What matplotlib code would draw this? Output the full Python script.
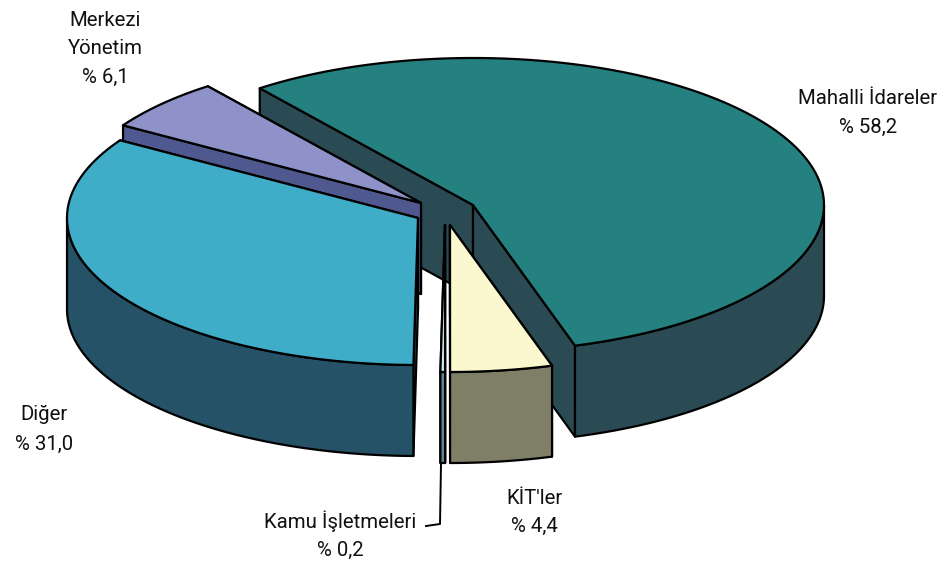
import numpy as np
import matplotlib
matplotlib.use("Agg")
import matplotlib.pyplot as plt
from matplotlib.patches import Polygon

# paylar (%) - saat yönünde, sol üstten başlayarak
names = ["Mahalli İdareler", "KİT'ler", "Kamu İşletmeleri", "Diğer", "Merkezi Yönetim"]
shares = [58.2, 4.4, 0.2, 31.0, 6.1]
top_colors = ["#258080", "#FBF8D0", "#CFE8F0", "#3FACC8", "#8F92C8"]
side_colors = ["#2A4B53", "#7F7F68", "#5F8794", "#265268", "#50598F"]

# her dilimin tepe noktasi (patlatilmis pasta)
centers = [(473, 205), (450, 225), (445, 225), (418, 218), (421, 203)]
draw_order = [0, 4, 3, 2, 1]

START = 135.6
RX, RY = 351, 147
DEPTH = 91

plt.rcParams["font.family"] = ["Roboto", "Liberation Sans", "DejaVu Sans"]

fig = plt.figure(figsize=(9.44, 5.63), dpi=100)
ax = fig.add_axes([0, 0, 1, 1])
ax.set_xlim(0, 944)
ax.set_ylim(563, 0)
ax.axis("off")


# perspektif: daire uzerindeki acilari elips uzerine tasir
def project(theta, center):
    u = np.cos(theta)
    v = np.sin(theta)
    warp = 0.15 + 0.09 * v
    d = 1 + warp * v
    x = u * np.sqrt(1 - warp ** 2) / d
    y = (v + warp) / d
    return center[0] + RX * x, center[1] - RY * y


def poly(xs, ys, color):
    ax.add_patch(Polygon(np.column_stack([xs, ys]), closed=True, facecolor=color,
                         edgecolor="black", linewidth=1.6, joinstyle="round"))


def draw_slice(a0, a1, center, top, side):
    thetas = np.radians(np.linspace(a0, a1, 160))
    xs, ys = project(thetas, center)
    cx, cy = center

    # kesit yuzleri - arkadaki once
    edges = [0, -1] if ys[0] < ys[-1] else [-1, 0]
    for i in edges:
        poly([cx, xs[i], xs[i], cx], [cy, ys[i], ys[i] + DEPTH, cy + DEPTH], side)

    # dis duvar (sadece on taraf)
    front = ys > cy
    if front.any():
        fx, fy = xs[front], ys[front]
        poly(np.r_[fx, fx[::-1]], np.r_[fy, fy[::-1] + DEPTH], side)

    # ust yuz
    poly(np.r_[cx, xs], np.r_[cy, ys], top)


fractions = np.array(shares) / np.sum(shares)
ends = START - 360 * np.cumsum(fractions)
starts = np.r_[START, ends[:-1]]

for i in draw_order:
    draw_slice(starts[i], ends[i], centers[i], top_colors[i], side_colors[i])

# etiketler
txt = dict(ha="center", va="center", fontsize=14.7, color="#111111")
ax.text(868, 98, "Mahalli İdareler", **txt)
ax.text(868, 127, "% 58,2", **txt)
ax.text(105, 21, "Merkezi", **txt)
ax.text(105, 49, "Yönetim", **txt)
ax.text(105, 77, "% 6,1", **txt)
ax.text(44, 415, "Diğer", **txt)
ax.text(44, 444, "% 31,0", **txt)
ax.text(534, 498, "KİT'ler", **txt)
ax.text(534, 526, "% 4,4", **txt)
ax.text(340, 521, "Kamu İşletmeleri", **txt)
ax.text(340, 550, "% 0,2", **txt)

# Kamu icin kilavuz cizgi
ax.plot([441, 440, 426], [464, 524, 526], color="black", linewidth=1.4)

fig.savefig("out.png", dpi=100)
